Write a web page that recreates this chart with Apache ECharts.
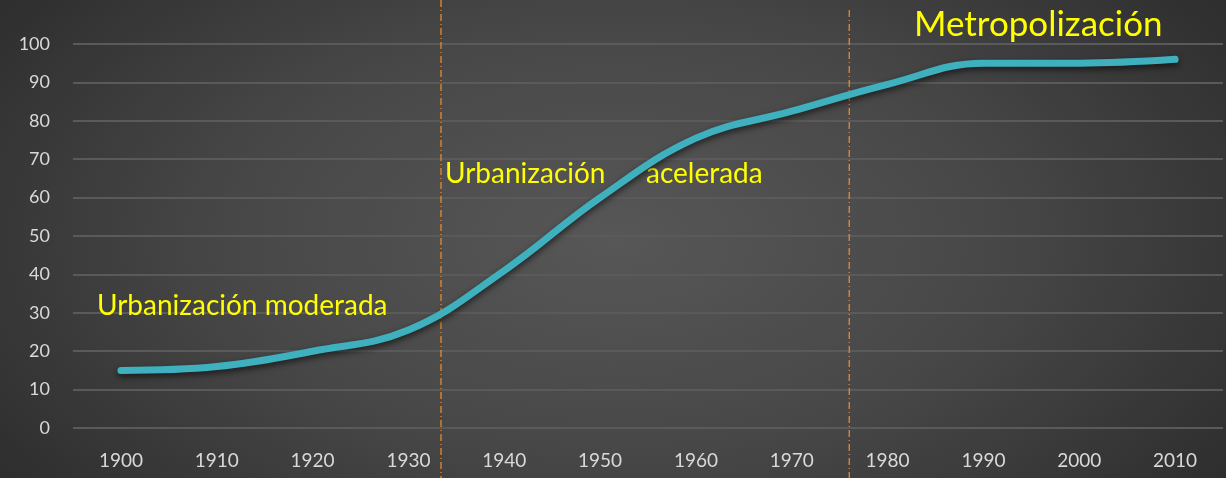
<!DOCTYPE html>
<html><head><meta charset="utf-8">
<script src="https://cdn.jsdelivr.net/npm/echarts@6/dist/echarts.min.js"></script>
<style>
html,body{margin:0;padding:0;}
#c{width:1226px;height:478px;background:radial-gradient(ellipse 70% 100% at 50% 50%, #575757 0%, #474747 45%, #262626 100%);}
</style></head><body>
<div id="c"></div>
<script>
const years = ['1900','1910','1920','1930','1940','1950','1960','1970','1980','1990','2000','2010'];
const urbanPct = [15, 16, 20, 25.5, 41, 60, 75.5, 82.5, 89.5, 95, 95, 96];
const phaseBreaks = [1933.4, 1976.0];
const phaseLabels = ['Urbanización moderada', 'Urbanización', 'acelerada', 'Metropolización'];

const chart = echarts.init(document.getElementById('c'));
const font = 'Lato, "Open Sans", sans-serif';
chart.setOption({
  backgroundColor: 'transparent',
  animation: false,
  grid: {left: 73, right: 3, top: 44, bottom: 50, containLabel: false},
  xAxis: [{
    type: 'category', data: years, boundaryGap: true,
    axisLine: {show: false}, axisTick: {show: false},
    axisLabel: {color: '#d9d9d9', fontSize: 19, fontFamily: font, margin: 23}
  }, {
    type: 'value', min: 1895, max: 2015, show: false
  }],
  yAxis: {
    type: 'value', min: 0, max: 100, interval: 10,
    axisLine: {show: false}, axisTick: {show: false},
    axisLabel: {color: '#d9d9d9', fontSize: 18, fontFamily: font, margin: 23},
    splitLine: {lineStyle: {color: '#5a5a5a', width: 2}}
  },
  series: [{
    type: 'line', data: urbanPct, smooth: 0.4, symbol: 'none',
    lineStyle: {color: '#3fb0be', width: 7, cap: 'round',
      shadowColor: 'rgba(0,0,0,0.6)', shadowBlur: 6, shadowOffsetY: 3}
  }]
});

const xs = phaseBreaks.map(v => chart.convertToPixel({xAxisIndex: 1}, v));
chart.setOption({
  graphic: [
    {type: 'line', shape: {x1: xs[0], y1: 0, x2: xs[0], y2: 478},
      style: {stroke: '#e8892b', lineWidth: 1.3, lineDash: [7, 3, 1, 3]}},
    {type: 'line', shape: {x1: xs[1], y1: 10, x2: xs[1], y2: 478},
      style: {stroke: '#e8892b', lineWidth: 1.3, lineDash: [7, 3, 1, 3]}},
    {type: 'text', left: 97, top: 292,
      style: {text: phaseLabels[0], fill: '#ffff00', font: '28px ' + font}},
    {type: 'text', left: 445, top: 160,
      style: {text: phaseLabels[1], fill: '#ffff00', font: '28px ' + font}},
    {type: 'text', left: 646, top: 160,
      style: {text: phaseLabels[2], fill: '#ffff00', font: '28px ' + font}},
    {type: 'text', left: 914, top: 7,
      style: {text: phaseLabels[3], fill: '#ffff00', font: '35px ' + font}}
  ]
});
</script>
</body></html>
